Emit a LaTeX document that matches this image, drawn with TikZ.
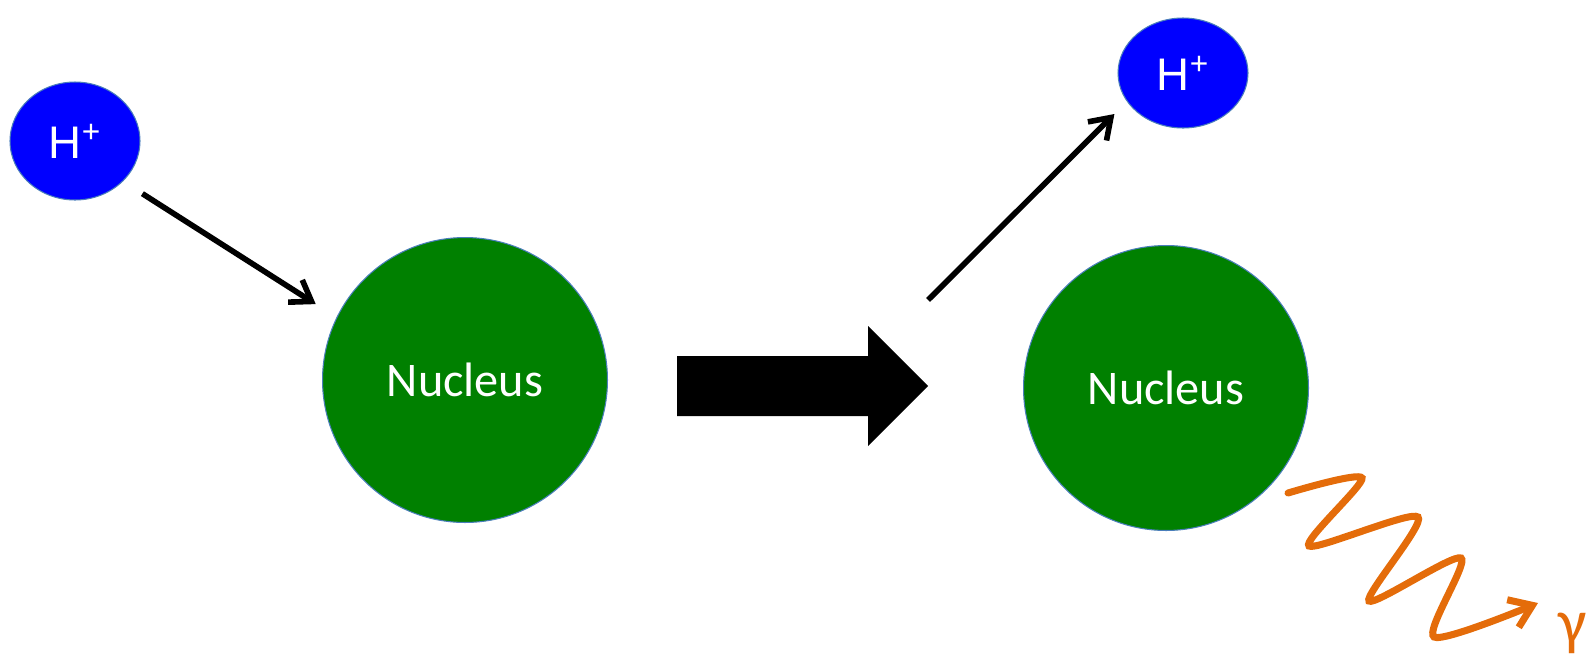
\documentclass[tikz,border=0pt]{standalone}
\usepackage{fontspec}
\setmainfont{Carlito}
\newfontfamily\arialfont{Liberation Sans}
\usetikzlibrary{shapes.geometric,arrows.meta}
\definecolor{protonblue}{RGB}{0,0,255}
\definecolor{nucgreen}{RGB}{0,128,0}
\definecolor{rimblue}{RGB}{74,126,187}
\definecolor{photonorange}{RGB}{228,108,10}

\begin{document}
\begin{tikzpicture}[x=0.02cm,y=-0.02cm]
	\tikzstyle{proton} = [ellipse,fill=protonblue,draw=rimblue,line width=0.6pt,text=white,font=\arialfont\fontsize{26}{30}\selectfont,inner sep=0pt]
	\tikzstyle{nucleus} = [circle,fill=nucgreen,draw=rimblue,line width=0.6pt,text=white,font=\fontsize{27.5}{32}\selectfont,minimum size=5.7cm]
	\tikzstyle{track} = [-{Straight Barb[length=11pt,width=15pt,line width=3.2pt]},line width=3.2pt]
	
	\useasboundingbox (0,0) rectangle (1592,660);
	
	\node[proton,minimum width=2.6cm,minimum height=2.36cm] (h1) at (75,141) {H\textsuperscript{\fontsize{18}{20}\selectfont+}};
	\node[nucleus] (n1) at (465,380) {Nucleus};
	
	\node[proton,minimum width=2.6cm,minimum height=2.2cm] (h2) at (1183,73) {H\textsuperscript{\fontsize{18}{20}\selectfont+}};
	\node[nucleus] (n2) at (1166,388) {Nucleus};
	
	\path (h1.-40) edge[track,shorten <=13pt,shorten >=14pt] (n1.154);
	
	\coordinate (emit) at (928,300);
	\path (emit) edge[track,shorten >=10pt] (h2.207);
	
	% reaction arrow
	\fill (677,356) -- (868,356) -- (868,326) -- (928,386) -- (868,446) -- (868,416) -- (677,416) -- cycle;
	
	% gamma ray
	\coordinate (g0) at (1288,493);
	\coordinate (g1) at (1538,603);
	\draw[photonorange,line width=4pt,line cap=round,-{Straight Barb[length=12pt,width=17pt,line width=4pt]}]
		plot[smooth,tension=0.45] coordinates {(g0) (1362,478) (1309,546) (1418,517) (1369,601) (1461,558) (1434,637) (g1)};
	\node[photonorange,font=\fontsize{36}{40}\selectfont,anchor=base west,inner sep=0pt] (gamma) at (1558,643) {γ};
\end{tikzpicture}
\end{document}
